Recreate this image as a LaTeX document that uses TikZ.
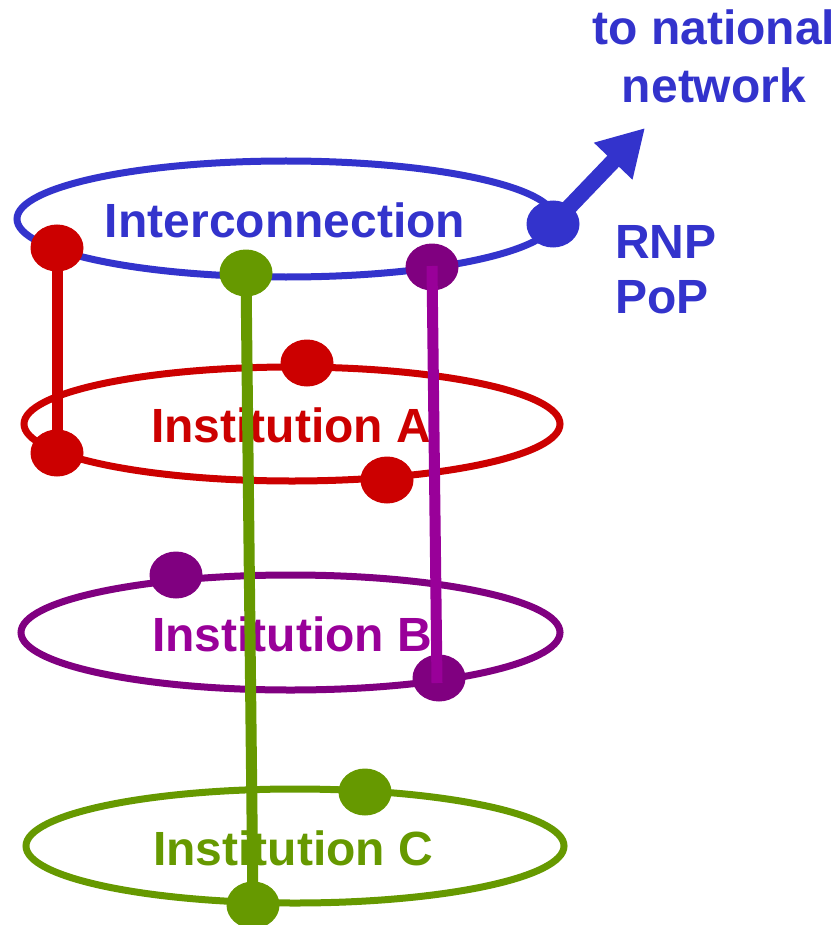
\documentclass[tikz,border=0pt]{standalone}
\usepackage{fontspec}
\setmainfont{Liberation Sans}
\usetikzlibrary{shapes.geometric,arrows.meta}
\definecolor{cblue}{HTML}{3333CC}
\definecolor{cred}{HTML}{CC0000}
\definecolor{cpurd}{HTML}{800080}
\definecolor{cpurl}{HTML}{990099}
\definecolor{cgreen}{HTML}{669900}
\tikzset{
  ring/.style={ellipse, draw, line width=7pt, inner sep=0pt},
  dot/.style={ellipse, fill=#1, draw=none, minimum width=53pt, minimum height=47pt, inner sep=0pt},
  lbl/.style={font=\fontsize{48}{56}\selectfont\bfseries, text=#1, inner sep=0pt, anchor=base},
  link/.style={line width=11pt, draw=#1}
}
\begin{document}
\begin{tikzpicture}[x=1pt,y=-1pt]
\useasboundingbox (0,0) rectangle (839,925);
% rings
\node[ring, draw=cblue, minimum width=538pt, minimum height=116pt] (ringI) at (286,219) {};
\node[ring, draw=cred, minimum width=536pt, minimum height=114pt] (ringA) at (292,424) {};
\node[ring, draw=cpurd, minimum width=539pt, minimum height=115pt] (ringB) at (290.5,632.5) {};
\node[ring, draw=cgreen, minimum width=538pt, minimum height=114pt] (ringC) at (295,846) {};
% labels
\node[lbl=cblue] (tI) at (285,237) {Interconnection};
\node[lbl=cred] (tA) at (291,442) {Institution A};
\node[lbl=cpurl] (tB) at (292,651) {Institution B};
\node[lbl=cgreen] (tC) at (293,865) {Institution C};
\node[lbl=cblue, align=center, anchor=base] (tN) at (714,103) {to national\\[2pt]network};
\node[lbl=cblue, anchor=base west, align=left] (tP) at (615,313) {RNP\\[-1pt]PoP};
% dots
\node[dot=cred] (dIr) at (57,248) {};
\node[dot=cgreen] (dIg) at (246,273) {};
\node[dot=cpurd] (dIp) at (432,267) {};
\node[dot=cblue] (pop) at (553,224) {};
\node[dot=cred] (dAt) at (307,363) {};
\node[dot=cred] (dAl) at (57,453) {};
\node[dot=cred] (dAb) at (387,480) {};
\node[dot=cpurd] (dBt) at (176,575) {};
\node[dot=cpurd] (dBb) at (439,678) {};
\node[dot=cgreen] (dCt) at (365,792) {};
\node[dot=cgreen] (dCb) at (253,905) {};
% arrow to national network
\coordinate (tip) at (645,128);
\draw[cblue, line width=16pt, -{Triangle[length=46pt,width=50pt]}] (pop.center) -- (tip);
% vertical links
\draw[link=cred] (dIr.center) -- (dAl.center);
\draw[link=cgreen] (dIg.center) -- (dCb.center);
\draw[link=cpurl] ([yshift=1pt]dIp.center) -- ([xshift=-2pt,yshift=-5pt]dBb.center);
\end{tikzpicture}
\end{document}
